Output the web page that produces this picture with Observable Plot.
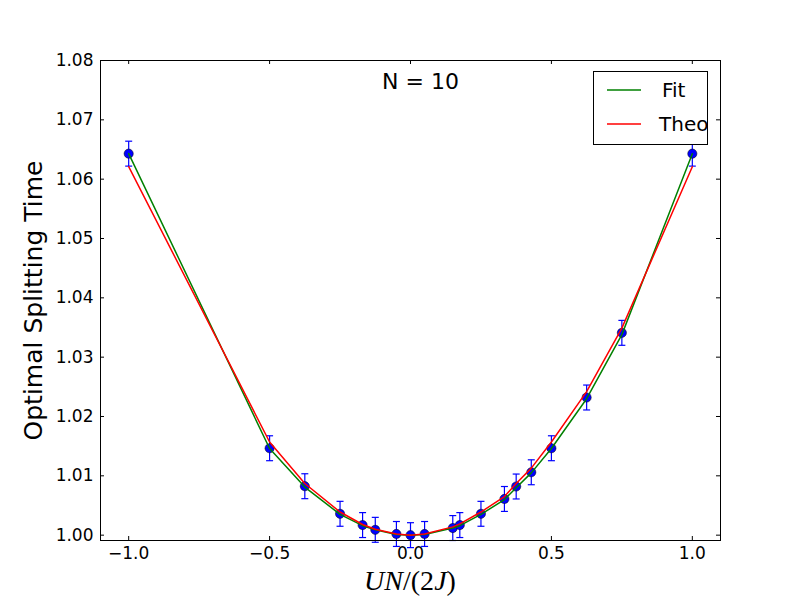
<!DOCTYPE html>
<html>
<head>
<meta charset="utf-8">
<script src="https://cdn.jsdelivr.net/npm/d3@7"></script>
<script src="https://cdn.jsdelivr.net/npm/@observablehq/plot@0.6"></script>
<style>
  body { margin: 0; background: #fff; }
  #wrap { position: relative; width: 800px; height: 600px; font-family: "DejaVu Sans", sans-serif; }
  #legend { position: absolute; left: 593px; top: 71px; width: 115px; height: 74px; border: 1px solid #000; background: #fff; box-sizing: border-box; }
  #xlabel { position: absolute; left: 0; width: 820px; top: 565px; text-align: center; font-family: "Liberation Serif", serif; font-size: 28px; font-style: italic; }
  #xlabel .up { font-style: normal; }
</style>
</head>
<body>
<div id="wrap"></div>
<script>
// Data
const xValues   = [-1, -0.5, -0.375, -0.25, -0.17, -0.125, -0.05, 0, 0.05, 0.15, 0.175, 0.25, 0.3333, 0.375, 0.4286, 0.5, 0.625, 0.75, 1];
const measured  = [1.0643, 1.01465, 1.00825, 1.0036, 1.0017, 1.0009, 1.0002, 1.0000, 1.0002, 1.0012, 1.0017, 1.0036, 1.0061, 1.0082, 1.0106, 1.01465, 1.0232, 1.0341, 1.0643];
const errors    = [0.0021, 0.0021, 0.0021, 0.0021, 0.0021, 0.0021, 0.0021, 0.0021, 0.0021, 0.0021, 0.0021, 0.0021, 0.0021, 0.0021, 0.0021, 0.0021, 0.0021, 0.0021, 0.0021];
const fitValues = [1.0643, 1.0146, 1.0081, 1.0035, 1.0016, 1.0009, 1.0001, 1.0000, 1.0001, 1.0012, 1.0016, 1.0035, 1.0060, 1.0080, 1.0105, 1.0146, 1.0230, 1.0338, 1.0643];
const theoValues= [1.0621, 1.0157, 1.0087, 1.0039, 1.0018, 1.0010, 1.0002, 1.0000, 1.0002, 1.0014, 1.0019, 1.0039, 1.0065, 1.0087, 1.0113, 1.0157, 1.0242, 1.0349, 1.0621];
const xTicks = [-1.0, -0.5, 0.0, 0.5, 1.0];
const yTicks = [1.00, 1.01, 1.02, 1.03, 1.04, 1.05, 1.06, 1.07, 1.08];
const titleText = ["N = 10"];
const yLabel = ["Optimal Splitting Time"];
const legendItems = [{name: "Fit", color: "#008000"}, {name: "Theo", color: "#ff0000"}];

const pts = xValues.map((x, i) => ({x, y: measured[i], e: errors[i]}));
const fit = xValues.map((x, i) => ({x, y: fitValues[i]}));
const theo = xValues.map((x, i) => ({x, y: theoValues[i]}));

const capSymbol = { draw(ctx, size) { ctx.moveTo(-3.5, 0); ctx.lineTo(3.5, 0); } };
const fmtX = d => (d < 0 ? "\u2212" : "") + Math.abs(d).toFixed(1);

const W = 800, H = 600, ML = 100, MR = 80, MT = 60, MB = 60;
const fw = W - ML - MR, fh = H - MT - MB;

const chart = Plot.plot({
  width: W, height: H,
  marginLeft: ML, marginRight: MR, marginTop: MT, marginBottom: MB,
  style: { fontFamily: "DejaVu Sans, sans-serif", background: "#fff", overflow: "visible" },
  x: { domain: [-1.1, 1.1] },
  y: { domain: [0.9991, 1.08] },
  marks: [
    Plot.axisX(xTicks, { tickSize: 0, tickPadding: 6, tickFormat: fmtX, fontSize: 17, label: null, color: "#000" }),
    Plot.axisY(yTicks, { tickSize: 0, tickPadding: 7, tickFormat: d => d.toFixed(2), fontSize: 17, label: null, color: "#000" }),
    // inward ticks on all four sides
    Plot.tickX(xTicks, { x: d => d, insetTop: fh - 4, stroke: "#000" }),
    Plot.tickX(xTicks, { x: d => d, insetBottom: fh - 4, stroke: "#000" }),
    Plot.tickY(yTicks, { y: d => d, insetRight: fw - 4, stroke: "#000" }),
    Plot.tickY(yTicks, { y: d => d, insetLeft: fw - 4, stroke: "#000" }),
    // error bars
    Plot.link(pts, { x1: "x", x2: "x", y1: d => d.y - d.e, y2: d => d.y + d.e, stroke: "#0000ff", strokeWidth: 1.2 }),
    Plot.dot(pts, { x: "x", y: d => d.y - d.e, symbol: capSymbol, r: 3, stroke: "#0000ff", fill: "none", strokeWidth: 1.2 }),
    Plot.dot(pts, { x: "x", y: d => d.y + d.e, symbol: capSymbol, r: 3, stroke: "#0000ff", fill: "none", strokeWidth: 1.2 }),
    Plot.dot(pts, { x: "x", y: "y", r: 4.6, fill: "#0000ff", stroke: "#000", strokeWidth: 0.5 }),
    Plot.line(fit, { x: "x", y: "y", stroke: "#008000", strokeWidth: 1.5 }),
    Plot.line(theo, { x: "x", y: "y", stroke: "#ff0000", strokeWidth: 1.5 }),
    Plot.text(titleText, { text: d => d, frameAnchor: "top", lineAnchor: "middle", dx: 10, dy: 21, fontSize: 22, fill: "#000" }),
    Plot.text(yLabel, { text: d => d, frameAnchor: "left", textAnchor: "middle", lineAnchor: "middle", dx: -67, rotate: -90, fontSize: 25, fill: "#000" }),
    Plot.frame({ stroke: "#000", strokeWidth: 1 })
  ]
});

const wrap = document.getElementById("wrap");
wrap.appendChild(chart);

// x label with mixed italic (math style)
const xl = document.createElement("div");
xl.id = "xlabel";
xl.innerHTML = 'UN<span class="up">/(2</span>J<span class="up">)</span>';
wrap.appendChild(xl);

// legend box
const lg = document.createElement("div");
lg.id = "legend";
const lsvg = d3.create("svg").attr("width", 113).attr("height", 72).style("position", "absolute").style("left", 0).style("top", 0);
legendItems.forEach((it, i) => {
  const cy = 18 + i * 34;
  lsvg.append("line").attr("x1", 13).attr("x2", 47).attr("y1", cy).attr("y2", cy).attr("stroke", it.color).attr("stroke-width", 1.5);
  lsvg.append("text").attr("x", i === 0 ? 68 : 65).attr("y", cy).attr("dy", "0.36em")
    .attr("font-family", "DejaVu Sans, sans-serif").attr("font-size", 20).text(it.name);
});
lg.appendChild(lsvg.node());
wrap.appendChild(lg);
</script>
</body>
</html>
